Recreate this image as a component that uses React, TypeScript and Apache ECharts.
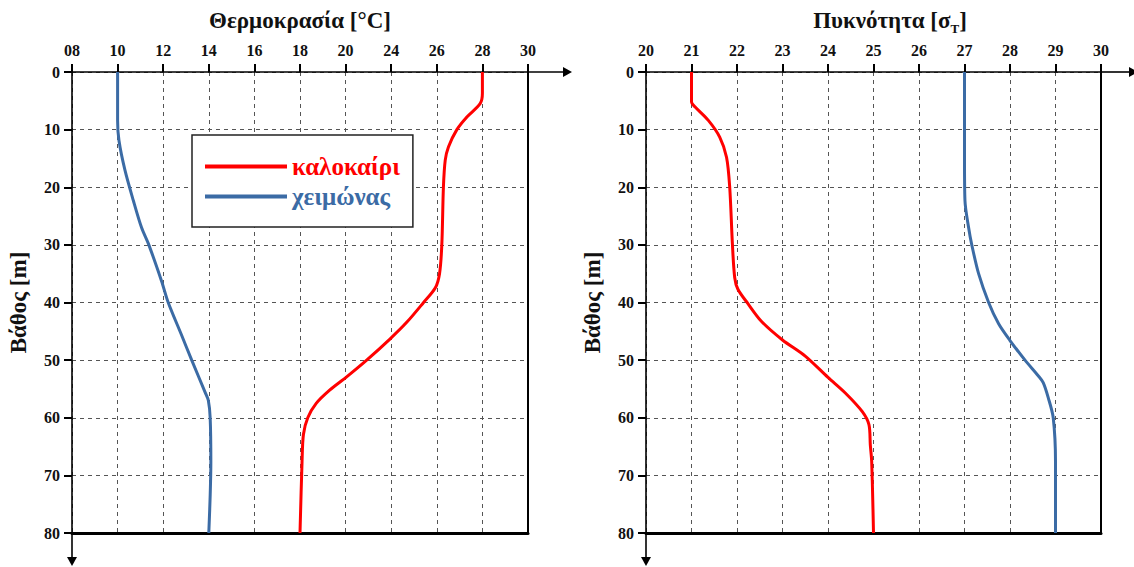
import React, { useEffect, useRef } from "react";
import * as echarts from "echarts";

// ---- Data ----
const tempTickLabels = ["08", "10", "12", "14", "16", "18", "20", "24", "26", "28", "30"];
const tempTickValues = [8, 10, 12, 14, 16, 18, 20, 24, 26, 28, 30];
const depthTicks = [0, 10, 20, 30, 40, 50, 60, 70, 80];

const seriesNames = ["καλοκαίρι", "χειμώνας"];

// Temperature profiles (°C vs depth m)
const summerDepthT = [0, 3.7, 5.5, 7.8, 10, 13, 15.3, 20, 30, 35, 37.5, 40, 43.4, 46.3, 50, 52.9, 55.2, 57.5, 60, 62.9, 67.6, 80];
const summerTemp = [28, 28, 27.9, 27.32, 26.88, 26.51, 26.37, 26.29, 26.22, 26.12, 25.93, 25.42, 24.69, 23.91, 21.85, 20.09, 19.3, 18.71, 18.34, 18.15, 18.09, 18.0];
const winterDepthT = [0, 8.4, 11.9, 17, 22.3, 27, 30, 36.3, 40, 45.6, 50, 55.6, 57, 60, 67.6, 80];
const winterTemp = [10, 10, 10.06, 10.32, 10.69, 11.05, 11.37, 11.93, 12.22, 12.8, 13.25, 13.84, 13.98, 14.06, 14.09, 14.0];

// Density profiles (sigma_T vs depth m)
const summerDepthD = [0, 5.2, 6, 8.4, 11.3, 14.8, 20, 30, 35.7, 37.7, 40.2, 43.3, 46.5, 49.3, 53, 55.7, 58.9, 61.2, 64.7, 67.6, 80];
const summerDens = [21, 21, 21.07, 21.37, 21.62, 21.77, 21.84, 21.9, 21.95, 22.02, 22.24, 22.54, 23.0, 23.5, 24.0, 24.38, 24.75, 24.9, 24.93, 24.96, 25.0];
const winterDepthD = [0, 15.3, 22.3, 27, 30, 35, 40, 43.7, 46.6, 50, 52.7, 53.9, 56.5, 60, 67.6, 80];
const winterDens = [27, 27, 27.01, 27.09, 27.16, 27.31, 27.53, 27.75, 28.0, 28.33, 28.62, 28.73, 28.84, 28.95, 29.0, 29.0];

// ---- Styling / layout ----
const FONT = "'Liberation Serif', 'Times New Roman', serif";
const RED = "#ff0000";
const BLUE = "#3b6ba5";
const INK = "#111";

const G1 = { left: 72, top: 72, width: 456, height: 461 };
const G2 = { left: 646, top: 72, width: 455, height: 461 };

// map a temperature onto the (non-uniform) tick index scale of the axis
function tempToPos(t: number): number {
  for (let i = 0; i < tempTickValues.length - 1; i++) {
    const a = tempTickValues[i];
    const b = tempTickValues[i + 1];
    if (t >= a && t <= b) return i + (t - a) / (b - a);
  }
  return t < tempTickValues[0] ? 0 : tempTickValues.length - 1;
}

function pairs(xs: number[], ys: number[], fx?: (v: number) => number) {
  return xs.map((x, i) => [fx ? fx(x) : x, ys[i]]);
}

function buildAxes(gridIndex: number, xmin: number, xmax: number, fmt: (v: number) => string) {
  const gridLine = { show: true, lineStyle: { color: "#555", type: [4, 4] as any, width: 1 } };
  const labelStyle = { fontFamily: FONT, fontWeight: "bold" as const, fontSize: 16, color: INK };
  const xAxes = [
    {
      gridIndex,
      type: "value",
      position: "top",
      min: xmin,
      max: xmax,
      interval: 1,
      axisLine: { show: true, onZero: false, lineStyle: { color: "#000", width: 1.6 } },
      axisTick: { show: true, inside: false, length: 8, lineStyle: { color: "#000", width: 2 } },
      axisLabel: { ...labelStyle, margin: 14, formatter: fmt },
      splitLine: gridLine,
    },
    {
      gridIndex,
      type: "value",
      position: "bottom",
      min: xmin,
      max: xmax,
      interval: 1,
      axisLine: { show: true, onZero: false, lineStyle: { color: "#000", width: 3 } },
      axisTick: { show: false },
      axisLabel: { show: false },
      splitLine: { show: false },
    },
  ];
  const yAxes = [
    {
      gridIndex,
      type: "value",
      position: "left",
      inverse: true,
      min: 0,
      max: 80,
      interval: 10,
      name: "Βάθος [m]",
      nameLocation: "middle",
      nameRotate: 90,
      nameGap: 42,
      nameTextStyle: { fontFamily: FONT, fontWeight: "bold", fontSize: 23, color: INK },
      axisLine: { show: true, onZero: false, lineStyle: { color: "#000", width: 1.6 } },
      axisTick: { show: true, inside: false, length: 8, lineStyle: { color: "#000", width: 2 } },
      axisLabel: { ...labelStyle, margin: 12, formatter: (v: number) => (depthTicks.includes(v) ? String(v) : "") },
      splitLine: gridLine,
    },
    {
      gridIndex,
      type: "value",
      position: "right",
      inverse: true,
      min: 0,
      max: 80,
      interval: 10,
      axisLine: { show: true, onZero: false, lineStyle: { color: "#000", width: 2 } },
      axisTick: { show: false },
      axisLabel: { show: false },
      splitLine: { show: false },
    },
  ];
  return { xAxes, yAxes };
}

function arrowGraphics(gx: number, gy: number, gw: number, gh: number, xTip: number, yTip: number) {
  const ls = { stroke: "#000", lineWidth: 1.6 };
  const right = gx + gw;
  const bottom = gy + gh;
  return [
    { type: "line", shape: { x1: right, y1: gy, x2: xTip - 6, y2: gy }, style: ls, silent: true },
    { type: "polygon", shape: { points: [[xTip - 9, gy - 5], [xTip, gy], [xTip - 9, gy + 5]] }, style: { fill: "#000" }, silent: true },
    { type: "line", shape: { x1: gx, y1: bottom, x2: gx, y2: yTip - 6 }, style: ls, silent: true },
    { type: "polygon", shape: { points: [[gx - 5, yTip - 9], [gx, yTip], [gx + 5, yTip - 9]] }, style: { fill: "#000" }, silent: true },
  ];
}

export default function App() {
  const ref = useRef<HTMLDivElement>(null);

  useEffect(() => {
    if (!ref.current) return;
    const chart = echarts.init(ref.current, undefined, { renderer: "svg" });

    const a1 = buildAxes(0, 0, tempTickLabels.length - 1, (v: number) => tempTickLabels[Math.round(v)] ?? "");
    const a2 = buildAxes(1, 20, 30, (v: number) => String(v));

    const lineCommon = {
      type: "line",
      symbol: "none",
      smooth: 0.3,
      clip: false,
      z: 5,
    };

    const legendText = { fontFamily: FONT, fontWeight: "bold", fontSize: 25 };

    const option: any = {
      animation: false,
      backgroundColor: "#fff",
      grid: [
        { ...G1, containLabel: false },
        { ...G2, containLabel: false },
      ],
      xAxis: [...a1.xAxes, ...a2.xAxes],
      yAxis: [...a1.yAxes, ...a2.yAxes],
      legend: {
        show: true,
        orient: "vertical",
        left: 192,
        top: 135,
        padding: [19, 13, 18, 13],
        itemGap: 5,
        itemWidth: 82,
        itemHeight: 4,
        itemTextGap: 8,
        icon: "rect",
        backgroundColor: "#fff",
        borderColor: "#222",
        borderWidth: 1.5,
        borderRadius: 0,
        selectedMode: false,
        data: [
          { name: seriesNames[0], textStyle: { ...legendText, color: RED } },
          { name: seriesNames[1], textStyle: { ...legendText, color: BLUE } },
        ],
        textStyle: legendText,
      },
      series: [
        {
          ...lineCommon,
          name: seriesNames[0],
          xAxisIndex: 0,
          yAxisIndex: 0,
          data: pairs(summerTemp, summerDepthT, tempToPos),
          color: RED,
          lineStyle: { color: RED, width: 3 },
        },
        {
          ...lineCommon,
          name: seriesNames[1],
          xAxisIndex: 0,
          yAxisIndex: 0,
          data: pairs(winterTemp, winterDepthT, tempToPos),
          color: BLUE,
          lineStyle: { color: BLUE, width: 3 },
        },
        {
          ...lineCommon,
          name: seriesNames[0],
          xAxisIndex: 2,
          yAxisIndex: 2,
          data: pairs(summerDens, summerDepthD),
          color: RED,
          lineStyle: { color: RED, width: 3 },
        },
        {
          ...lineCommon,
          name: seriesNames[1],
          xAxisIndex: 2,
          yAxisIndex: 2,
          data: pairs(winterDens, winterDepthD),
          color: BLUE,
          lineStyle: { color: BLUE, width: 3 },
        },
      ],
      graphic: [
        ...arrowGraphics(G1.left, G1.top, G1.width, G1.height, 572, 566),
        ...arrowGraphics(G2.left, G2.top, G2.width, G2.height, 1138, 566),
        {
          type: "text",
          x: G1.left + G1.width / 2,
          y: 20,
          style: {
            text: "Θερμοκρασία [°C]",
            font: `bold 23px ${FONT}`,
            fill: INK,
            align: "center",
            verticalAlign: "middle",
          },
        },
        {
          type: "text",
          x: 890,
          y: 20,
          style: {
            text: "{a|Πυκνότητα [σ}{s|T}{a|]}",
            align: "center",
            verticalAlign: "middle",
            rich: {
              a: { font: `bold 23px ${FONT}`, fill: INK, color: INK, verticalAlign: "bottom" },
              s: { font: `bold 13px ${FONT}`, fill: INK, color: INK, verticalAlign: "bottom", padding: [0, 0, -3, 0] },
            },
          },
        },
      ],
    };

    chart.setOption(option);
    return () => chart.dispose();
  }, []);

  return (
    <div
      ref={ref}
      style={{ position: "fixed", left: 0, top: 0, width: 1134, height: 567, background: "#fff" }}
    />
  );
}
